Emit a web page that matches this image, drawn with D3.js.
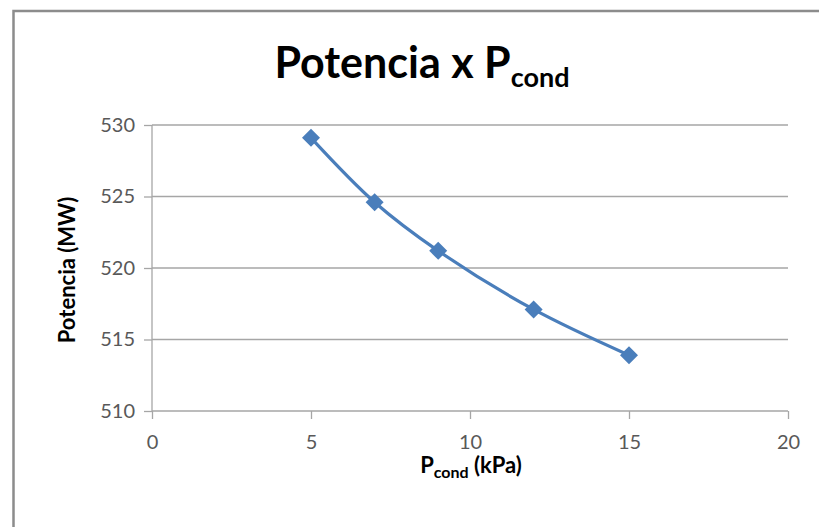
<!DOCTYPE html>
<html><head><meta charset="utf-8">
<script src="https://cdn.jsdelivr.net/npm/d3@7"></script>
<style>body{margin:0;background:#fff}svg{display:block}</style>
</head><body>
<svg id="c" width="819" height="527"></svg>
<script>
const xValues = [5, 7, 9, 12, 15];
const yValues = [529.1, 524.6, 521.2, 517.1, 513.9];
const xTicks = [0, 5, 10, 15, 20];
const yTicks = [510, 515, 520, 525, 530];

const svg = d3.select("#c");
const font = "Lato, 'Open Sans', sans-serif";
const m = {l:152, r:788, t:125, b:411};
const x = d3.scaleLinear().domain([0,20]).range([m.l, m.r]);
const y = d3.scaleLinear().domain([510,530]).range([m.b, m.t]);

svg.append("rect").attr("x",13.5).attr("y",11).attr("width",830).attr("height",540)
  .attr("fill","#fff").attr("stroke","#8c8c8c").attr("stroke-width",2.5);

// gridlines
svg.append("g").selectAll("line").data(yTicks.filter(d=>d!==510)).join("line")
  .attr("x1",m.l).attr("x2",m.r).attr("y1",d=>y(d)).attr("y2",d=>y(d))
  .attr("stroke","#a6a6a6").attr("stroke-width",1.3);

// axes
const ya = svg.append("g").attr("transform",`translate(${m.l},0)`)
  .call(d3.axisLeft(y).tickValues(yTicks).tickSize(8).tickPadding(9));
const xa = svg.append("g").attr("transform",`translate(0,${m.b})`)
  .call(d3.axisBottom(x).tickValues(xTicks).tickSize(8).tickPadding(16));
[ya, xa].forEach(a=>{
  a.select(".domain").attr("stroke","#a6a6a6").attr("stroke-width",1.3);
  a.selectAll(".tick line").attr("stroke","#a6a6a6").attr("stroke-width",1.3);
  a.selectAll(".tick text").attr("fill","#595959").attr("font-family",font).attr("font-size",20);
});
ya.select(".domain").attr("d",`M-0,${m.t}V${m.b}`);
xa.select(".domain").attr("d",`M${m.l},0H${m.r}`);
xa.selectAll(".tick line").attr("y1",0);

// line
const pts = xValues.map((d,i)=>[d,yValues[i]]);
svg.append("path").datum(pts)
  .attr("d", d3.line().x(d=>x(d[0])).y(d=>y(d[1])).curve(d3.curveCatmullRom.alpha(0.5)))
  .attr("fill","none").attr("stroke","#4a7ebb").attr("stroke-width",3.2);

svg.append("g").selectAll("path").data(pts).join("path")
  .attr("transform",d=>`translate(${x(d[0])},${y(d[1])})`)
  .attr("d","M0,-9L9,0L0,9L-9,0Z").attr("fill","#4a7ebb");

// title
const t = svg.append("text").attr("x",422).attr("y",78).attr("text-anchor","middle")
  .attr("font-family",font).attr("font-weight","bold").attr("font-size",43).attr("fill","#000");
t.append("tspan").text("Potencia x P");
t.append("tspan").attr("font-size",27).attr("dy",9).text("cond");

// y title
svg.append("text").attr("transform","translate(75,270) rotate(-90)").attr("text-anchor","middle")
  .attr("font-family",font).attr("font-weight","bold").attr("font-size",22).attr("fill","#000")
  .text("Potencia (MW)");

// x title
const xt = svg.append("text").attr("x",471).attr("y",473).attr("text-anchor","middle")
  .attr("font-family",font).attr("font-weight","bold").attr("font-size",22).attr("fill","#000");
xt.append("tspan").text("P");
xt.append("tspan").attr("font-size",16).attr("dy",5).text("cond");
xt.append("tspan").attr("dy",-5).text(" (kPa)");
</script>
</body></html>
